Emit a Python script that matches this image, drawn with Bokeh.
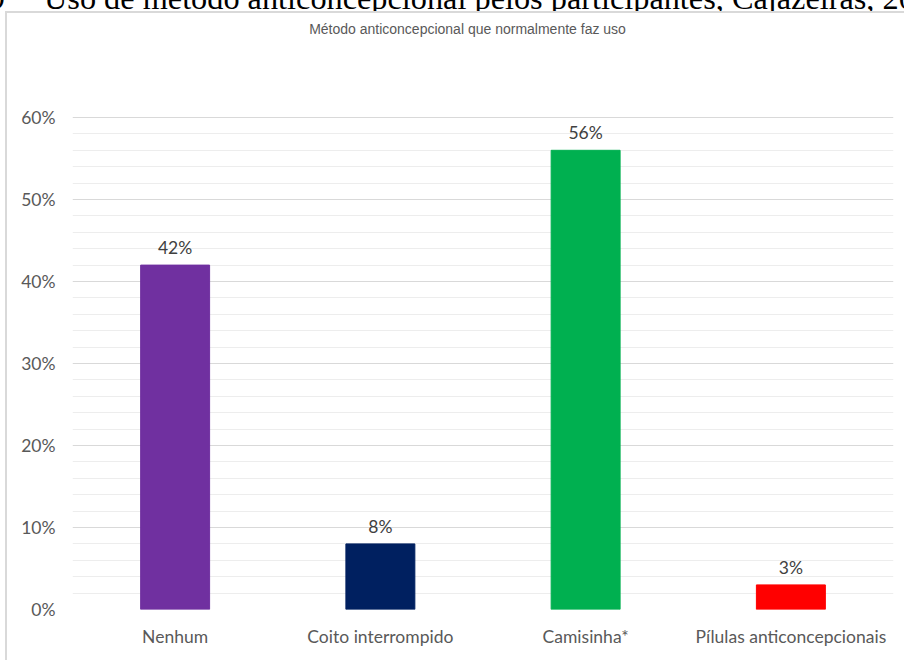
from bokeh.plotting import figure
from bokeh.models import (ColumnDataSource, FactorRange, Range1d, LabelSet, Label,
                          FixedTicker, CustomJSTickFormatter, Div)
from bokeh.layouts import column, row
from bokeh.core.properties import value
from bokeh.embed import file_html
from bokeh.resources import INLINE

categories = ["Nenhum", "Coito interrompido", "Camisinha*", "Pílulas anticoncepcionais"]
values = [42, 8, 56, 3]
value_labels = ["42%", "8%", "56%", "3%"]
colors = ["#7030A0", "#002060", "#00B050", "#FF0000"]
y_ticks = [0, 10, 20, 30, 40, 50, 60]
y_minor_ticks = [2, 4, 6, 8, 12, 14, 16, 18, 22, 24, 26, 28, 32, 34, 36, 38,
                 42, 44, 46, 48, 52, 54, 56, 58]

chart_title = "Método anticoncepcional que normalmente faz uso"
caption_num = "9"
caption = "Uso de método anticoncepcional pelos participantes, Cajazeiras, 20"

BORDER = "#D9D9D9"

# ---- header strip (page y 0..13): cut-off caption and top border ----
cap_style = ("position:absolute;top:-18px;white-space:nowrap;line-height:1;"
             "font-family:'Liberation Serif';font-size:32.3px;color:#000;")
header_html = (
    '<div style="position:relative;width:904px;height:13px;overflow:hidden;">'
    f'<span style="{cap_style}right:899px;">{caption_num}</span>'
    f'<span style="{cap_style}left:44px;">{caption}</span>'
    f'<div style="position:absolute;left:5px;top:11px;width:899px;height:2px;background:{BORDER};"></div>'
    '</div>'
)
header = Div(text=header_html, width=904, height=13, margin=0)

# ---- left border strip ----
left_html = (
    '<div style="position:relative;width:8px;height:647px;overflow:hidden;">'
    f'<div style="position:absolute;left:5px;top:0;width:2px;height:647px;background:{BORDER};"></div>'
    '</div>'
)
left = Div(text=left_html, width=8, height=647, margin=0)

# ---- main chart (page x 8..904, y 13..660) ----
src = ColumnDataSource(dict(cat=categories, val=values, lab=value_labels, col=colors))

FRAME_TOP, FRAME_BOTTOM, Y60 = 14, 609, 117   # page pixels
y_end = 60 * (FRAME_BOTTOM - FRAME_TOP) / (FRAME_BOTTOM - Y60)

p = figure(width=896, height=647, x_range=FactorRange(factors=categories, range_padding=0),
           y_range=Range1d(0, y_end), output_backend="svg", toolbar_location=None,
           min_border_left=64, min_border_right=11, min_border_top=FRAME_TOP - 13,
           min_border_bottom=660 - FRAME_BOTTOM, margin=0)
p.outline_line_color = None
p.background_fill_color = "white"
p.border_fill_color = "white"

p.vbar(x="cat", top="val", width=0.336, color="col", source=src)

p.add_layout(LabelSet(x="cat", y="val", text="lab", source=src, text_align="center",
                      text_baseline="bottom", y_offset=7, text_font=value("Lato"),
                      text_font_size="17.5px", text_color="#404040"))

# chart title, centred at page (467, 28)
px_per_cat = (893 - 72) / len(categories)
title_x = (467 - 72) / px_per_cat
title_y = 60 * (FRAME_BOTTOM - 28) / (FRAME_BOTTOM - Y60)
p.add_layout(Label(x=title_x, y=title_y, text=chart_title, text_align="center",
                   text_baseline="middle", text_font="Liberation Sans",
                   text_font_size="14px", text_color="#595959"))

p.yaxis.ticker = FixedTicker(ticks=y_ticks, minor_ticks=y_minor_ticks)
p.yaxis.formatter = CustomJSTickFormatter(code="return tick.toFixed(0) + '%'")
for ax in (p.xaxis, p.yaxis):
    ax.axis_line_color = None
    ax.major_tick_line_color = None
    ax.minor_tick_line_color = None
    ax.major_label_text_font = "Lato"
    ax.major_label_text_font_size = "17.5px"
    ax.major_label_text_color = "#595959"
p.yaxis.major_label_standoff = 11
p.xaxis.major_label_standoff = 10

p.xgrid.grid_line_color = None
p.ygrid.grid_line_color = "#D9D9D9"
p.ygrid.minor_grid_line_color = "#EDEDED"

layout = column(header, row(left, p, spacing=0), spacing=0)
open("out.html", "w").write(file_html(layout, INLINE))
